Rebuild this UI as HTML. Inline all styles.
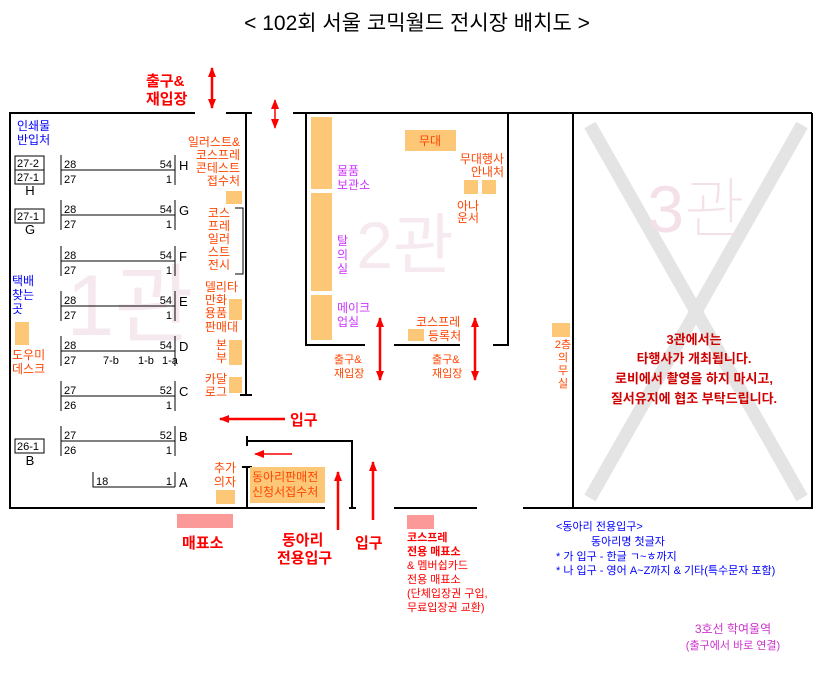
<!DOCTYPE html>
<html><head><meta charset="utf-8"><style>
body{margin:0;background:#fff}
svg text{font-family:"Liberation Sans","Noto Sans CJK KR",sans-serif}
.o{fill:#ff4500;font-size:12px}
.p{fill:#cc33ff;font-size:12px}
.b{fill:#0000ff;font-size:12px}
.n{fill:#000;font-size:11px}
.r{fill:#f00;font-size:15px;font-weight:bold}
.box{fill:#fcc878}
</style></head><body>
<svg width="835" height="680" viewBox="0 0 835 680" xmlns="http://www.w3.org/2000/svg">
<defs>
<marker id="ah" markerWidth="10" markerHeight="8" refX="9" refY="4" orient="auto" markerUnits="userSpaceOnUse"><path d="M0,0 L10,4 L0,8z" fill="#f00"/></marker>
<marker id="ahs" markerWidth="10" markerHeight="8" refX="1" refY="4" orient="auto" markerUnits="userSpaceOnUse"><path d="M10,0 L0,4 L10,8z" fill="#f00"/></marker>
</defs>
<text x="417" y="30" text-anchor="middle" style="font-size:21px" fill="#000">&lt; 102회 서울 코믹월드 전시장 배치도 &gt;</text>

<line x1="590" y1="125" x2="802" y2="498" stroke="#e4e4e4" stroke-width="13"/>
<line x1="802" y1="125" x2="590" y2="498" stroke="#e4e4e4" stroke-width="13"/>
<text x="696" y="232" text-anchor="middle" style="font-size:66px;font-weight:100" fill="#f4e0e8">3관</text>
<text x="405" y="268" text-anchor="middle" style="font-size:66px" fill="#f6eaf0">2관</text>
<text x="130" y="335" text-anchor="middle" style="font-size:86px" fill="#f6e8ef">1관</text>

<g stroke="#000" stroke-width="2" fill="none">
<polyline points="195,113 10,113 10,508 325,508"/>
<line x1="226" y1="113" x2="252" y2="113"/>
<line x1="246" y1="113" x2="246" y2="395"/>
<line x1="240" y1="395" x2="252" y2="395"/>
<line x1="293" y1="113" x2="812" y2="113"/>
<polyline points="306,113 306,345 365,345"/>
<line x1="394" y1="345" x2="460" y2="345"/>
<polyline points="493,345 508,345 508,113"/>
<line x1="573" y1="113" x2="573" y2="508"/>
<polyline points="812,113 812,508 523,508"/>
<line x1="394" y1="508" x2="477" y2="508"/>
<line x1="247" y1="467" x2="247" y2="508"/>
<line x1="242" y1="467" x2="252" y2="467"/>
<polyline points="247,441 352,441 352,508"/>
<line x1="247" y1="436" x2="247" y2="446"/>
<line x1="349" y1="508" x2="356" y2="508"/>
</g>

<g stroke="#000" stroke-width="1" fill="none">
<path d="M61,155V185M175,155V185M61,170H175"/>
<path d="M61,200V230M175,200V230M61,215H175"/>
<path d="M61,246V276M175,246V276M61,261H175"/>
<path d="M61,291V321M175,291V321M61,306H175"/>
<path d="M61,336V366M175,336V366M61,351H175"/>
<path d="M61,381V411M175,381V411M61,396H175"/>
<path d="M61,426V456M175,426V456M61,441H175"/>
<path d="M93,472V487H175M175,472V487"/>
<rect x="15" y="156" width="29" height="14"/><rect x="15" y="170" width="29" height="14"/>
<rect x="15" y="209" width="29" height="14"/>
<rect x="15" y="439" width="29" height="14"/>
<path d="M235,208H243V274H235"/>
</g>
<g class="n">
<text x="64" y="168">28</text><text x="172" y="168" text-anchor="end">54</text><text x="64" y="183">27</text><text x="172" y="183" text-anchor="end">1</text>
<text x="64" y="213">28</text><text x="172" y="213" text-anchor="end">54</text><text x="64" y="228">27</text><text x="172" y="228" text-anchor="end">1</text>
<text x="64" y="259">28</text><text x="172" y="259" text-anchor="end">54</text><text x="64" y="274">27</text><text x="172" y="274" text-anchor="end">1</text>
<text x="64" y="304">28</text><text x="172" y="304" text-anchor="end">54</text><text x="64" y="319">27</text><text x="172" y="319" text-anchor="end">1</text>
<text x="64" y="349">28</text><text x="172" y="349" text-anchor="end">54</text><text x="64" y="364">27</text><text x="103" y="364">7-b</text><text x="138" y="364">1-b</text><text x="162" y="364">1-a</text>
<text x="64" y="394">27</text><text x="172" y="394" text-anchor="end">52</text><text x="64" y="409">26</text><text x="172" y="409" text-anchor="end">1</text>
<text x="64" y="439">27</text><text x="172" y="439" text-anchor="end">52</text><text x="64" y="454">26</text><text x="172" y="454" text-anchor="end">1</text>
<text x="96" y="485">18</text><text x="172" y="485" text-anchor="end">1</text>
<g style="font-size:13px;font-family:'Liberation Serif',serif">
<text x="179" y="170">H</text><text x="179" y="215">G</text><text x="179" y="261">F</text><text x="179" y="306">E</text><text x="179" y="351">D</text><text x="179" y="396">C</text><text x="179" y="441">B</text><text x="179" y="487">A</text>
<text x="30" y="195" text-anchor="middle">H</text><text x="30" y="234" text-anchor="middle">G</text><text x="30" y="465" text-anchor="middle">B</text>
</g>
<text x="17" y="167">27-2</text><text x="17" y="181">27-1</text><text x="17" y="220">27-1</text><text x="17" y="450">26-1</text>
</g>

<g class="box">
<rect x="226" y="191" width="16" height="13"/>
<rect x="229" y="299" width="13" height="21"/>
<rect x="229" y="340" width="13" height="25"/>
<rect x="229" y="377" width="13" height="16"/>
<rect x="15" y="322" width="14" height="23"/>
<rect x="216" y="490" width="19" height="14"/>
<rect x="250" y="467" width="75" height="36"/>
<rect x="311" y="117" width="21" height="72"/>
<rect x="311" y="193" width="21" height="98"/>
<rect x="311" y="295" width="21" height="45"/>
<rect x="405" y="130" width="51" height="21"/>
<rect x="464" y="180" width="14" height="14"/>
<rect x="482" y="180" width="14" height="14"/>
<rect x="408" y="329" width="16" height="12"/>
<rect x="552" y="323" width="18" height="14"/>
</g>
<rect x="177" y="514" width="56" height="14" fill="#fb9898"/>
<rect x="407" y="515" width="27" height="14" fill="#fb9898"/>

<g class="b"><text x="17" y="130">인쇄물</text><text x="17" y="144">반입처</text>
<text x="12" y="285">택배</text><text x="12" y="299">찾는</text><text x="12" y="313">곳</text></g>
<g class="o">
<text x="12" y="359">도우미</text><text x="12" y="373">데스크</text>
<g text-anchor="end">
<text x="240" y="146">일러스트&amp;</text><text x="240" y="159">코스프레</text><text x="240" y="172">콘테스트</text><text x="240" y="185">접수처</text>
<text x="230" y="217">코스</text><text x="230" y="230">프레</text><text x="230" y="243">일러</text><text x="230" y="256">스트</text><text x="230" y="269">전시</text>
<text x="238" y="291">델리타</text><text x="227" y="304">만화</text><text x="227" y="317">용품</text><text x="238" y="331">판매대</text>
<text x="227" y="349">본</text><text x="227" y="362">부</text>
<text x="227" y="383">카달</text><text x="227" y="396">로그</text>
<text x="236" y="472">추가</text><text x="236" y="486">의자</text>
</g>
<text x="252" y="481">동아리판매전</text><text x="252" y="496">신청서접수처</text>
<text x="430" y="145" text-anchor="middle">무대</text>
<text x="504" y="163" text-anchor="end">무대행사</text><text x="504" y="176" text-anchor="end">안내처</text>
<text x="457" y="210">아나</text><text x="457" y="222">운서</text>
<text x="416" y="326">코스프레</text><text x="428" y="340">등록처</text>
<g style="font-size:11px"><text x="334" y="363">출구&amp;</text><text x="334" y="377">재입장</text>
<text x="432" y="363">출구&amp;</text><text x="432" y="377">재입장</text></g>
<g style="font-size:11px" text-anchor="middle"><text x="563" y="348">2층</text><text x="563" y="361">의</text><text x="563" y="374">무</text><text x="563" y="387">실</text></g>
</g>
<g class="p"><text x="337" y="175">물품</text><text x="337" y="189">보관소</text>
<text x="337" y="245">탈</text><text x="337" y="259">의</text><text x="337" y="273">실</text>
<text x="337" y="312">메이크</text><text x="337" y="326">업실</text></g>

<g fill="#d00000" style="font-size:13px;font-weight:bold" text-anchor="middle">
<text x="694" y="344">3관에서는</text><text x="694" y="363">타행사가 개최됩니다.</text><text x="694" y="383">로비에서 촬영을 하지 마시고,</text><text x="694" y="403">질서유지에 협조 부탁드립니다.</text>
</g>

<g class="r">
<text x="146" y="86">출구&amp;</text><text x="146" y="104">재입장</text>
<text x="290" y="425">입구</text>
<text x="182" y="548">매표소</text>
<text x="282" y="545">동아리</text><text x="277" y="563">전용입구</text>
<text x="355" y="548">입구</text>
</g>
<g fill="#f00" style="font-size:11px"><text x="407" y="541" style="font-weight:bold">코스프레</text><text x="407" y="555" style="font-weight:bold">전용 매표소</text>
<text x="407" y="569">&amp; 멤버쉽카드</text><text x="407" y="583">전용 매표소</text><text x="407" y="597">(단체입장권 구입,</text><text x="407" y="611">무료입장권 교환)</text></g>
<g fill="#0000ff" style="font-size:11px"><text x="556" y="530">&lt;동아리 전용입구&gt;</text><text x="591" y="545">동아리명 첫글자</text>
<text x="556" y="560">* 가 입구 - 한글 ㄱ~ㅎ까지</text><text x="556" y="574">* 나 입구 - 영어 A~Z까지 &amp; 기타(특수문자 포함)</text></g>
<g fill="#cc33cc" style="font-size:12px" text-anchor="middle"><text x="733" y="633">3호선 학여울역</text><text x="733" y="649" style="font-size:11px">(출구에서 바로 연결)</text></g>

<g stroke="#f00" stroke-width="2.5" fill="none">
<line x1="212" y1="68" x2="212" y2="108" marker-start="url(#ahs)" marker-end="url(#ah)"/>
<line x1="380" y1="318" x2="380" y2="380" marker-start="url(#ahs)" marker-end="url(#ah)"/>
<line x1="475" y1="318" x2="475" y2="380" marker-start="url(#ahs)" marker-end="url(#ah)"/>
<line x1="285" y1="419" x2="220" y2="419" marker-end="url(#ah)"/>
<line x1="338" y1="530" x2="338" y2="472" marker-end="url(#ah)"/>
<line x1="373" y1="520" x2="373" y2="462" marker-end="url(#ah)"/>
</g>
<g stroke="#f00" stroke-width="1.5" fill="none">
<line x1="275" y1="100" x2="275" y2="128" marker-start="url(#ahs)" marker-end="url(#ah)"/>
<line x1="292" y1="454" x2="255" y2="454" marker-end="url(#ah)"/>
</g>
</svg>
</body></html>
